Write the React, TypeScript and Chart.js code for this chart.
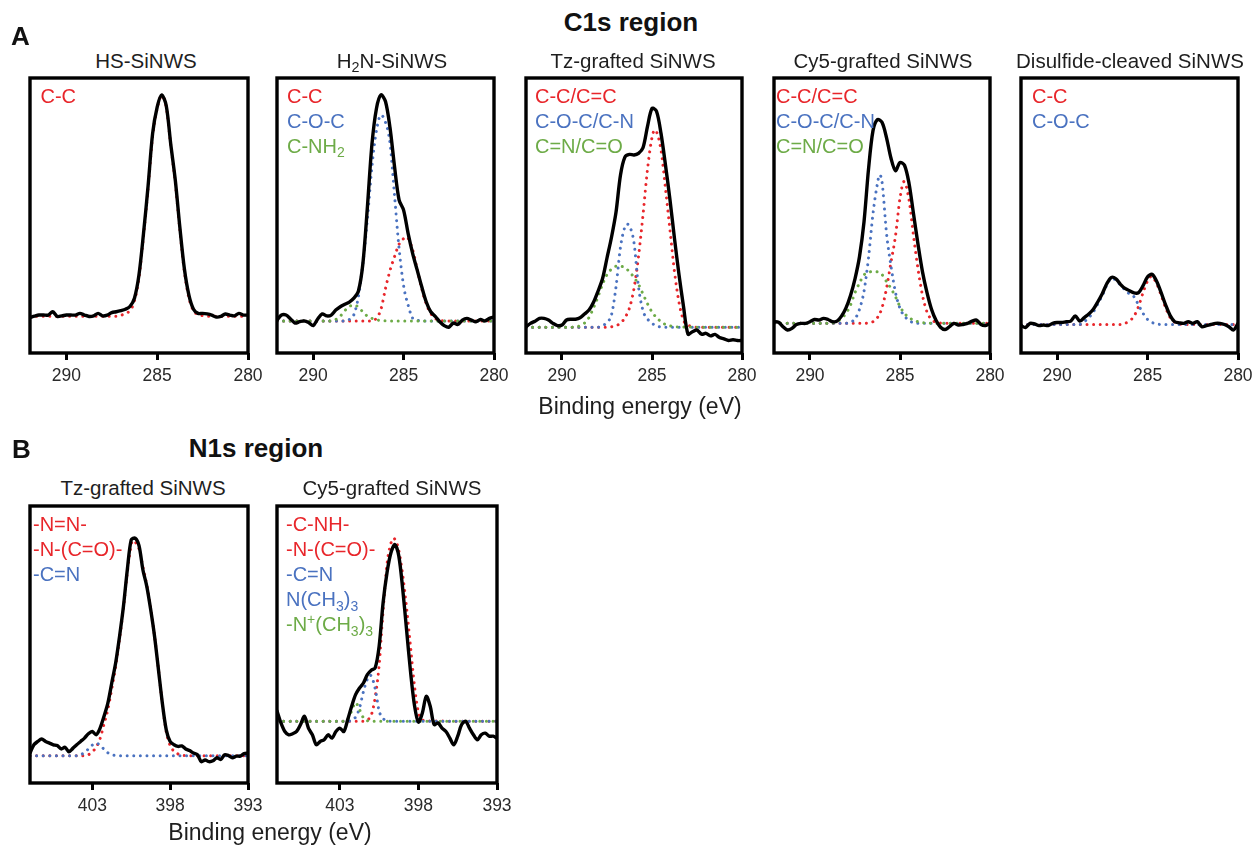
import React, { useEffect, useRef } from "react";
import { Chart, registerables } from "chart.js";

Chart.register(...registerables);

// ---------------- DATA ----------------
// C1s energy grid (eV), used by all black C1s spectra
const C1S_E = [
  292, 291.75, 291.5, 291.25, 291, 290.75, 290.5, 290.25,
  290, 289.75, 289.5, 289.25, 289, 288.75, 288.5, 288.25,
  288, 287.75, 287.5, 287.25, 287, 286.75, 286.5, 286.25,
  286, 285.75, 285.5, 285.25, 285, 284.75, 284.5, 284.25,
  284, 283.75, 283.5, 283.25, 283, 282.75, 282.5, 282.25,
  282, 281.75, 281.5, 281.25, 281, 280.75, 280.5, 280.25,
  280,
];
// N1s energy grid (eV)
const N1S_E = [
  407, 406.75, 406.5, 406.25, 406, 405.75, 405.5, 405.25,
  405, 404.75, 404.5, 404.25, 404, 403.75, 403.5, 403.25,
  403, 402.75, 402.5, 402.25, 402, 401.75, 401.5, 401.25,
  401, 400.75, 400.5, 400.25, 400, 399.75, 399.5, 399.25,
  399, 398.75, 398.5, 398.25, 398, 397.75, 397.5, 397.25,
  397, 396.75, 396.5, 396.25, 396, 395.75, 395.5, 395.25,
  395, 394.75, 394.5, 394.25, 394, 393.75, 393.5, 393.25,
  393,
];

const C1S_TICKS = [290, 285, 280];
const N1S_TICKS = [403, 398, 393];

// --- HS-SiNWS C1s ---
const HS_TOTAL = [
  13.5, 14, 14.4, 14.4, 14.4, 15.6, 13.9, 14.1,
  14.4, 14.4, 14.4, 15, 14.4, 13.9, 14.1, 15,
  14.1, 14.4, 15.3, 15.6, 16, 16.5, 17.5, 20.5,
  29, 44, 61, 80, 89.5, 93.9, 90, 76,
  63, 46, 31, 21.5, 16.5, 15, 15, 14.8,
  14.4, 13.7, 13.9, 14.8, 14.4, 14.1, 15, 14.4,
  14.4,
];
const HS_CC_E = [292, 287.25, 287, 286.75, 286.5, 286.25, 286, 285.75, 285.5, 285.25, 285, 284.75, 284.5, 284.25, 284, 283.75, 283.5, 283.25, 283, 282.75, 282.5, 282.25, 280];
const HS_CC = [14, 14, 14.3, 15, 16, 19.5, 28, 43, 60, 79, 89, 93.5, 89.5, 75.5, 62, 45, 30, 20.5, 16, 14.6, 14.2, 14, 14];

// --- H2N-SiNWS C1s ---
const H2N_TOTAL = [
  12.6, 14.4, 14.4, 13, 11.5, 12, 12.3, 11.7,
  10.6, 13, 14.8, 14.1, 14.4, 16.2, 17.4, 18.3,
  19.1, 20.5, 23, 33, 53.5, 76, 89, 93.9,
  91.5, 82, 68, 56, 52.3, 43.9, 36.7, 30.7,
  24.7, 19.2, 15.6, 13.9, 12, 10.6, 10, 11.5,
  11, 12.6, 13.2, 12.6, 12, 12.8, 12.3, 13.2,
  13.7,
];
const H2N_CC_E = [292, 286.75, 286.5, 286.25, 286, 285.75, 285.5, 285.25, 285, 284.85, 284.5, 284.25, 284, 283.75, 283.5, 283.25, 283, 282.5, 280];
const H2N_CC = [12.3, 12.3, 13.3, 16.5, 24, 30.5, 35.5, 40, 42, 42.6, 38, 31, 24, 18.5, 15, 13.2, 12.5, 12.3, 12.3];
const H2N_COC_E = [292, 288.25, 288, 287.75, 287.5, 287.25, 287, 286.75, 286.5, 286.25, 286, 285.75, 285.5, 285.25, 285, 284.75, 284.5, 284.25, 284, 280];
const H2N_COC = [12.3, 12.3, 12.8, 14.5, 21, 33, 49, 68, 81, 86.6, 84, 76.5, 57.5, 38.5, 25, 18, 13.3, 12.5, 12.3, 12.3];
const H2N_CNH2_E = [292, 289, 288.75, 288.5, 288.25, 288, 287.75, 287.5, 287.25, 287, 286.75, 286.5, 286, 280];
const H2N_CNH2 = [12.3, 12.3, 12.8, 14, 16, 17.5, 18, 17.3, 15.5, 14, 13.2, 12.7, 12.3, 12.3];

// --- Tz-grafted SiNWS C1s ---
const TZC_TOTAL = [
  10.2, 11.4, 12.2, 13.2, 13.2, 12.6, 11.4, 10.6,
  10.8, 12.6, 12.9, 12.9, 13.4, 14.8, 16.2, 19,
  23, 27.5, 35, 42.5, 51.5, 65, 71.5, 72.4,
  72.2, 72.8, 74.8, 82.5, 89, 88, 80, 68.5,
  56, 42, 29, 17.5, 7.5, 8.4, 9, 7.5,
  7.8, 6.9, 7.4, 6.3, 5.8, 5.2, 5.5, 5.2,
  5.2,
];
const TZC_CC_E = [292, 287.5, 287, 286.75, 286.5, 286.25, 286, 285.75, 285.5, 285.25, 285, 284.85, 284.5, 284.25, 284, 283.75, 283.5, 283.25, 283, 282.75, 282.5, 280];
const TZC_CC = [10, 10, 10.6, 11.5, 13.5, 17, 24, 35.5, 50.5, 67, 78.5, 81.2, 74, 60, 45, 30, 19, 12.5, 10.8, 10.2, 10, 10];
const TZC_COC_E = [292, 288, 287.75, 287.5, 287.25, 287, 286.75, 286.5, 286.38, 286.25, 286, 285.75, 285.5, 285.25, 285, 284.75, 284.5, 284, 280];
const TZC_COC = [10, 10, 10.5, 11.8, 14.5, 24.5, 39, 46.3, 47.2, 46.5, 40.5, 24.5, 16, 13, 11.4, 10.5, 10.1, 10, 10];
const TZC_CNCO_E = [292, 289.5, 289, 288.75, 288.5, 288.25, 288, 287.75, 287.5, 287.25, 287, 286.75, 286.5, 286.25, 286, 285.75, 285.5, 285.25, 285, 284.75, 284.5, 284.25, 284, 283.5, 280];
const TZC_CNCO = [10, 10, 10.5, 11.5, 13.5, 17, 21, 25.5, 29, 31, 32, 32, 31.5, 30, 28, 25.5, 22, 18.5, 15.5, 13.5, 12, 11, 10.5, 10.1, 10];

// --- Cy5-grafted SiNWS C1s ---
const CY5C_TOTAL = [
  12, 11.8, 10.2, 9, 9.6, 11, 11.4, 11.4,
  12, 12.8, 12.6, 13.2, 12.8, 12, 12.2, 14,
  17, 21.5, 27.5, 35.5, 48, 67, 81, 85,
  84, 78.5, 71, 66.5, 69.5, 68.5, 62, 51,
  40, 30, 22.5, 16.5, 12.5, 10, 9.2, 10.2,
  11.4, 10.8, 11, 11.4, 12.2, 12.6, 11, 10.6,
  11.4,
];
const CY5C_CC_E = [292, 287, 286.75, 286.5, 286.25, 286, 285.75, 285.5, 285.25, 285, 284.78, 284.5, 284.25, 284, 283.75, 283.5, 283.25, 283, 282.75, 280];
const CY5C_CC = [11.4, 11.4, 11.6, 12, 13.5, 17, 24, 33.5, 43, 56.6, 62.6, 56, 43, 31, 21.5, 15.5, 12.8, 11.8, 11.5, 11.4];
const CY5C_COC_E = [292, 288, 287.75, 287.5, 287.25, 287, 286.75, 286.5, 286.25, 286.14, 286, 285.75, 285.5, 285.25, 285, 284.75, 284.5, 284.25, 284, 280];
const CY5C_COC = [11.4, 11.4, 11.8, 13, 16.5, 23, 35, 51, 62, 65, 62.5, 44, 32, 22.5, 16.8, 14, 12.5, 11.6, 11.4, 11.4];
const CY5C_CNCO_E = [292, 289, 288.5, 288.25, 288, 287.75, 287.5, 287.25, 287, 286.75, 286.5, 286.25, 286, 285.75, 285.5, 285.25, 285, 284.75, 284.5, 284.25, 284, 283.5, 280];
const CY5C_CNCO = [11.4, 11.4, 12, 13.2, 15, 18, 22.5, 26, 28.9, 29.8, 30.1, 30, 29, 26.5, 24, 21, 17.5, 15, 13.5, 12.6, 12, 11.5, 11.4];

// --- Disulfide-cleaved SiNWS C1s ---
const DSC_TOTAL = [
  10.6, 9.9, 11.4, 11.2, 10.6, 10.8, 10.6, 11.4,
  11.7, 11.7, 12, 12.2, 14.1, 12.2, 13.5, 14.8,
  16.5, 19.2, 22.2, 25.8, 28, 27.5, 25.5, 24,
  23.2, 22.4, 22.5, 25, 28.2, 29.1, 26.6, 22.5,
  18, 14.2, 12, 11.6, 11.4, 12, 11.4, 12,
  10.2, 10.6, 11, 11.4, 11.4, 11, 10.2, 9,
  11.4,
];
const DSC_CC_E = [292, 286.5, 286.25, 286, 285.75, 285.5, 285.25, 285, 284.8, 284.5, 284.25, 284, 283.75, 283.5, 283.25, 283, 280];
const DSC_CC = [11, 11, 11.4, 12.3, 14, 17.5, 22.5, 26.7, 28.3, 25.8, 21.5, 17, 13.5, 11.8, 11.2, 11, 11];
const DSC_COC_E = [292, 288.75, 288.5, 288.25, 288, 287.75, 287.5, 287.25, 287, 286.75, 286.5, 286.25, 286, 285.75, 285.5, 285.25, 285, 284.75, 284.5, 284.25, 280];
const DSC_COC = [11, 11, 12, 13.5, 15.5, 18.5, 21.5, 25.3, 27.6, 27, 25.2, 23.5, 22, 21, 18, 15, 12.8, 11.7, 11.2, 11, 11];

// --- Tz-grafted SiNWS N1s ---
const TZN_TOTAL = [
  10.8, 13.8, 15, 15.9, 15, 14.4, 13.8, 13.5,
  12.3, 12.9, 11.3, 12.5, 13.8, 15, 16.2, 17.8,
  18.6, 17.4, 19.8, 24, 28.8, 36.1, 43.3, 52.9,
  63.7, 77, 87.8, 88.4, 85.7, 77, 71, 62.6,
  52.9, 40.9, 28.8, 19.2, 15, 13.8, 13.2, 13.4,
  12.3, 11.7, 10.8, 10.2, 7.7, 8.3, 7.7, 8,
  9.1, 8.5, 10.2, 9.9, 9.1, 9.7, 9.7, 10.6,
  10.8,
];
const TZN_NN_E = [407, 403.5, 403.25, 403, 402.75, 402.5, 402.25, 402, 401.75, 401.5, 401.25, 401, 400.75, 400.5, 400.4, 400.25, 400, 399.75, 399.5, 399.25, 399, 398.75, 398.5, 398.25, 398, 397.75, 397.5, 397.25, 397, 393];
const TZN_NN = [9.8, 9.8, 10.2, 11.2, 13, 16, 21.2, 26.5, 34, 42, 52, 63, 76, 86, 87.5, 87, 84.5, 78, 71.5, 63, 53, 41, 28.5, 18.5, 13.5, 11.5, 10.5, 10, 9.9, 9.8];
const TZN_CN_E = [407, 404, 403.75, 403.5, 403.25, 403, 402.75, 402.5, 402.25, 402, 401.75, 401.5, 401, 393];
const TZN_CN = [9.8, 9.8, 10.2, 11, 12.3, 13.7, 14.4, 13.6, 12.2, 10.9, 10.2, 9.9, 9.8, 9.8];

// --- Cy5-grafted SiNWS N1s ---
const CY5N_TOTAL = [
  26, 21.7, 18.6, 17.4, 17.8, 18.6, 21.1, 24.1,
  19.8, 17.4, 13.8, 15, 15.6, 17.4, 16.2, 18.6,
  19.8, 18.6, 22.9, 27.7, 31.9, 34.3, 36.1, 39.1,
  40.7, 41.6, 49.4, 65, 75.9, 83.1, 86.1, 82,
  70, 55, 40, 28, 22, 25.3, 31.3, 27.7,
  21.1, 21.7, 19.8, 18.6, 16.2, 13.8, 16.9, 21.1,
  22.3, 19.8, 17.4, 15.6, 17.4, 18, 16.9, 16.9,
  16.2,
];
const CY5N_NH_E = [407, 401.5, 401.25, 401, 400.75, 400.5, 400.25, 400, 399.75, 399.6, 399.5, 399.25, 399, 398.75, 398.5, 398.25, 398, 397.75, 397.5, 393];
const CY5N_NH = [22.3, 22.3, 22.8, 24.5, 31, 42.5, 62, 79, 86.5, 88.3, 88, 84, 75, 63, 49, 35, 25.5, 22.8, 22.4, 22.3];
const CY5N_CN_E = [407, 402.5, 402.25, 402, 401.75, 401.5, 401.25, 401.06, 400.75, 400.5, 400.25, 400, 399.75, 393];
const CY5N_CN = [22.3, 22.3, 22.6, 23.8, 27, 33, 37.5, 38.9, 34, 26, 23.3, 22.5, 22.3, 22.3];
const CY5N_NQ_E = [407, 402.75, 402.5, 402.25, 402, 401.75, 401.5, 401.25, 401, 393];
const CY5N_NQ = [22.3, 22.3, 23, 26, 29, 26.5, 23.5, 22.5, 22.3, 22.3];

// ---------------- STYLE / LAYOUT ----------------
const RED = "#e8262b";
const BLUE = "#4a72c0";
const GREEN = "#6dab47";
const FONT = '"Liberation Sans", Arial, Helvetica, sans-serif';
const PADX = 24;
const PADT = 6;
const AXIS_H = 40;

type Comp = { e: number[]; v: number[]; color: string };
type LegendItem = { text: string; color: string };
type Panel = {
  id: string;
  left: number; top: number; width: number; height: number;
  xMin: number; xMax: number; yMin: number; yMax: number;
  ticks: number[];
  e: number[]; total: number[]; comps: Comp[];
  title: string; titleX: number; titleY: number;
  legend: LegendItem[]; legendX: number; legendY: number;
};

const PANELS: Panel[] = [
  {
    id: "hs", left: 30, top: 78, width: 218, height: 275,
    xMin: 280, xMax: 292, yMin: 0.7, yMax: 100, ticks: C1S_TICKS,
    e: C1S_E, total: HS_TOTAL,
    comps: [{ e: HS_CC_E, v: HS_CC, color: RED }],
    title: "HS-SiNWS", titleX: 146, titleY: 68,
    legend: [{ text: "C-C", color: RED }], legendX: 40.5, legendY: 102.5,
  },
  {
    id: "h2n", left: 277, top: 78, width: 217, height: 275,
    xMin: 280, xMax: 292, yMin: 0.7, yMax: 100, ticks: C1S_TICKS,
    e: C1S_E, total: H2N_TOTAL,
    comps: [
      { e: H2N_CC_E, v: H2N_CC, color: RED },
      { e: H2N_COC_E, v: H2N_COC, color: BLUE },
      { e: H2N_CNH2_E, v: H2N_CNH2, color: GREEN },
    ],
    title: "H_2N-SiNWS", titleX: 392, titleY: 68,
    legend: [
      { text: "C-C", color: RED },
      { text: "C-O-C", color: BLUE },
      { text: "C-NH_2", color: GREEN },
    ],
    legendX: 287, legendY: 102.5,
  },
  {
    id: "tzc", left: 526, top: 78, width: 216, height: 275,
    xMin: 280, xMax: 292, yMin: 0.7, yMax: 100, ticks: C1S_TICKS,
    e: C1S_E, total: TZC_TOTAL,
    comps: [
      { e: TZC_CC_E, v: TZC_CC, color: RED },
      { e: TZC_COC_E, v: TZC_COC, color: BLUE },
      { e: TZC_CNCO_E, v: TZC_CNCO, color: GREEN },
    ],
    title: "Tz-grafted SiNWS", titleX: 633, titleY: 68,
    legend: [
      { text: "C-C/C=C", color: RED },
      { text: "C-O-C/C-N", color: BLUE },
      { text: "C=N/C=O", color: GREEN },
    ],
    legendX: 535, legendY: 102.5,
  },
  {
    id: "cy5c", left: 774, top: 78, width: 216, height: 275,
    xMin: 280, xMax: 292, yMin: 0.7, yMax: 100, ticks: C1S_TICKS,
    e: C1S_E, total: CY5C_TOTAL,
    comps: [
      { e: CY5C_CC_E, v: CY5C_CC, color: RED },
      { e: CY5C_COC_E, v: CY5C_COC, color: BLUE },
      { e: CY5C_CNCO_E, v: CY5C_CNCO, color: GREEN },
    ],
    title: "Cy5-grafted SiNWS", titleX: 883, titleY: 68,
    legend: [
      { text: "C-C/C=C", color: RED },
      { text: "C-O-C/C-N", color: BLUE },
      { text: "C=N/C=O", color: GREEN },
    ],
    legendX: 776, legendY: 102.5,
  },
  {
    id: "dsc", left: 1021, top: 78, width: 217, height: 275,
    xMin: 280, xMax: 292, yMin: 0.7, yMax: 100, ticks: C1S_TICKS,
    e: C1S_E, total: DSC_TOTAL,
    comps: [
      { e: DSC_CC_E, v: DSC_CC, color: RED },
      { e: DSC_COC_E, v: DSC_COC, color: BLUE },
    ],
    title: "Disulfide-cleaved SiNWS", titleX: 1130, titleY: 68,
    legend: [
      { text: "C-C", color: RED },
      { text: "C-O-C", color: BLUE },
    ],
    legendX: 1032, legendY: 102.5,
  },
  {
    id: "tzn", left: 30, top: 506, width: 218, height: 277,
    xMin: 393, xMax: 407, yMin: 0, yMax: 100, ticks: N1S_TICKS,
    e: N1S_E, total: TZN_TOTAL,
    comps: [
      { e: TZN_NN_E, v: TZN_NN, color: RED },
      { e: TZN_CN_E, v: TZN_CN, color: BLUE },
    ],
    title: "Tz-grafted SiNWS", titleX: 143, titleY: 495,
    legend: [
      { text: "-N=N-", color: RED },
      { text: "-N-(C=O)-", color: RED },
      { text: "-C=N", color: BLUE },
    ],
    legendX: 33, legendY: 531,
  },
  {
    id: "cy5n", left: 277, top: 506, width: 220, height: 277,
    xMin: 393, xMax: 407, yMin: 0, yMax: 100, ticks: N1S_TICKS,
    e: N1S_E, total: CY5N_TOTAL,
    comps: [
      { e: CY5N_NH_E, v: CY5N_NH, color: RED },
      { e: CY5N_CN_E, v: CY5N_CN, color: BLUE },
      { e: CY5N_NQ_E, v: CY5N_NQ, color: GREEN },
    ],
    title: "Cy5-grafted SiNWS", titleX: 392, titleY: 495,
    legend: [
      { text: "-C-NH-", color: RED },
      { text: "-N-(C=O)-", color: RED },
      { text: "-C=N", color: BLUE },
      { text: "N(CH_3)_3", color: BLUE },
      { text: "-N^+(CH_3)_3", color: GREEN },
    ],
    legendX: 286, legendY: 531,
  },
];

// ---------------- RENDERING ----------------
function Rich({ text }: { text: string }) {
  const parts: React.ReactNode[] = [];
  let buf = "";
  let i = 0;
  while (i < text.length) {
    const ch = text[i];
    if ((ch === "_" || ch === "^") && i + 1 < text.length) {
      if (buf) { parts.push(buf); buf = ""; }
      parts.push(
        <span key={i} style={{ fontSize: "0.7em", position: "relative", top: ch === "_" ? "0.32em" : "-0.5em" }}>
          {text[i + 1]}
        </span>
      );
      i += 2;
    } else {
      buf += ch;
      i += 1;
    }
  }
  if (buf) parts.push(buf);
  return <>{parts}</>;
}

function Label(props: { x: number; y: number; size: number; bold?: boolean; color?: string; center?: boolean; text: string }) {
  const { x, y, size, bold, color, center, text } = props;
  const style: React.CSSProperties = {
    position: "absolute",
    left: x,
    top: y - 0.8465 * size,
    fontSize: size,
    lineHeight: `${size}px`,
    fontFamily: FONT,
    fontWeight: bold ? 700 : 400,
    color: color || "#1e1e1e",
    whiteSpace: "nowrap",
    transform: center ? "translateX(-50%)" : undefined,
  };
  return <div style={style}><Rich text={text} /></div>;
}

const framePlugin = {
  id: "frame",
  afterDatasetsDraw(chart: any) {
    const { ctx, chartArea: a } = chart;
    ctx.save();
    ctx.strokeStyle = "#000";
    ctx.lineWidth = 3.4;
    ctx.strokeRect(a.left, a.top, a.right - a.left, a.bottom - a.top);
    ctx.restore();
  },
};

function PanelChart({ p }: { p: Panel }) {
  const ref = useRef<HTMLCanvasElement | null>(null);
  useEffect(() => {
    if (!ref.current) return;
    const datasets: any[] = [
      {
        data: p.e.map((x, i) => ({ x, y: p.total[i] })),
        borderColor: "#000",
        borderWidth: 3.4,
        pointRadius: 0,
        tension: 0.3,
        borderJoinStyle: "round",
        borderCapStyle: "round",
        fill: false,
      },
    ];
    [...p.comps].reverse().forEach((c) => {
      datasets.push({
        data: c.e.map((x, i) => ({ x, y: c.v[i] })),
        borderColor: c.color,
        borderWidth: 3,
        borderDash: [0.001, 6.6],
        borderCapStyle: "round",
        pointRadius: 0,
        cubicInterpolationMode: "monotone",
        fill: false,
      });
    });
    const chart = new Chart(ref.current, {
      type: "line",
      data: { datasets },
      plugins: [framePlugin],
      options: {
        responsive: false,
        animation: false,
        events: [],
        layout: { padding: { left: PADX, right: PADX, top: PADT, bottom: 0 } },
        plugins: { legend: { display: false }, tooltip: { enabled: false }, title: { display: false } },
        scales: {
          x: {
            type: "linear",
            min: p.xMin,
            max: p.xMax,
            reverse: true,
            afterBuildTicks: (s: any) => { s.ticks = p.ticks.map((v) => ({ value: v })); },
            afterFit: (s: any) => { s.height = AXIS_H; },
            ticks: {
              color: "#2a2a2a",
              font: { family: FONT, size: 17.5 },
              padding: 6,
              maxRotation: 0,
              autoSkip: false,
              callback: (v: any) => String(v),
            },
            grid: {
              drawOnChartArea: false,
              drawTicks: true,
              tickLength: 7,
              tickWidth: 3,
              tickColor: "#000",
              color: "#000",
            },
            border: { display: false },
          },
          y: { display: false, min: p.yMin, max: p.yMax },
        },
      } as any,
    });
    return () => chart.destroy();
  }, [p]);

  const w = p.width + 2 * PADX;
  const h = PADT + p.height + AXIS_H;
  return (
    <canvas
      ref={ref}
      width={w}
      height={h}
      style={{ position: "absolute", left: p.left - PADX, top: p.top - PADT, width: w, height: h, display: "block" }}
    />
  );
}

export default function App() {
  return (
    <div style={{ position: "fixed", left: 0, top: 0, width: 1254, height: 846, background: "#fff", overflow: "hidden" }}>
      {PANELS.map((p) => <PanelChart key={p.id} p={p} />)}
      {PANELS.map((p) => (
        <Label key={p.id + "-t"} x={p.titleX} y={p.titleY} size={20.5} center text={p.title} />
      ))}
      {PANELS.map((p) =>
        p.legend.map((l, i) => (
          <Label key={p.id + "-l" + i} x={p.legendX} y={p.legendY + i * 25} size={20} color={l.color} text={l.text} />
        ))
      )}
      <Label x={11} y={45} size={26} bold color="#111" text="A" />
      <Label x={631} y={31} size={26} bold color="#111" center text="C1s region" />
      <Label x={640} y={414} size={23} center text="Binding energy (eV)" />
      <Label x={12} y={458} size={26} bold color="#111" text="B" />
      <Label x={256} y={457} size={26} bold color="#111" center text="N1s region" />
      <Label x={270} y={840} size={23} center text="Binding energy (eV)" />
    </div>
  );
}
